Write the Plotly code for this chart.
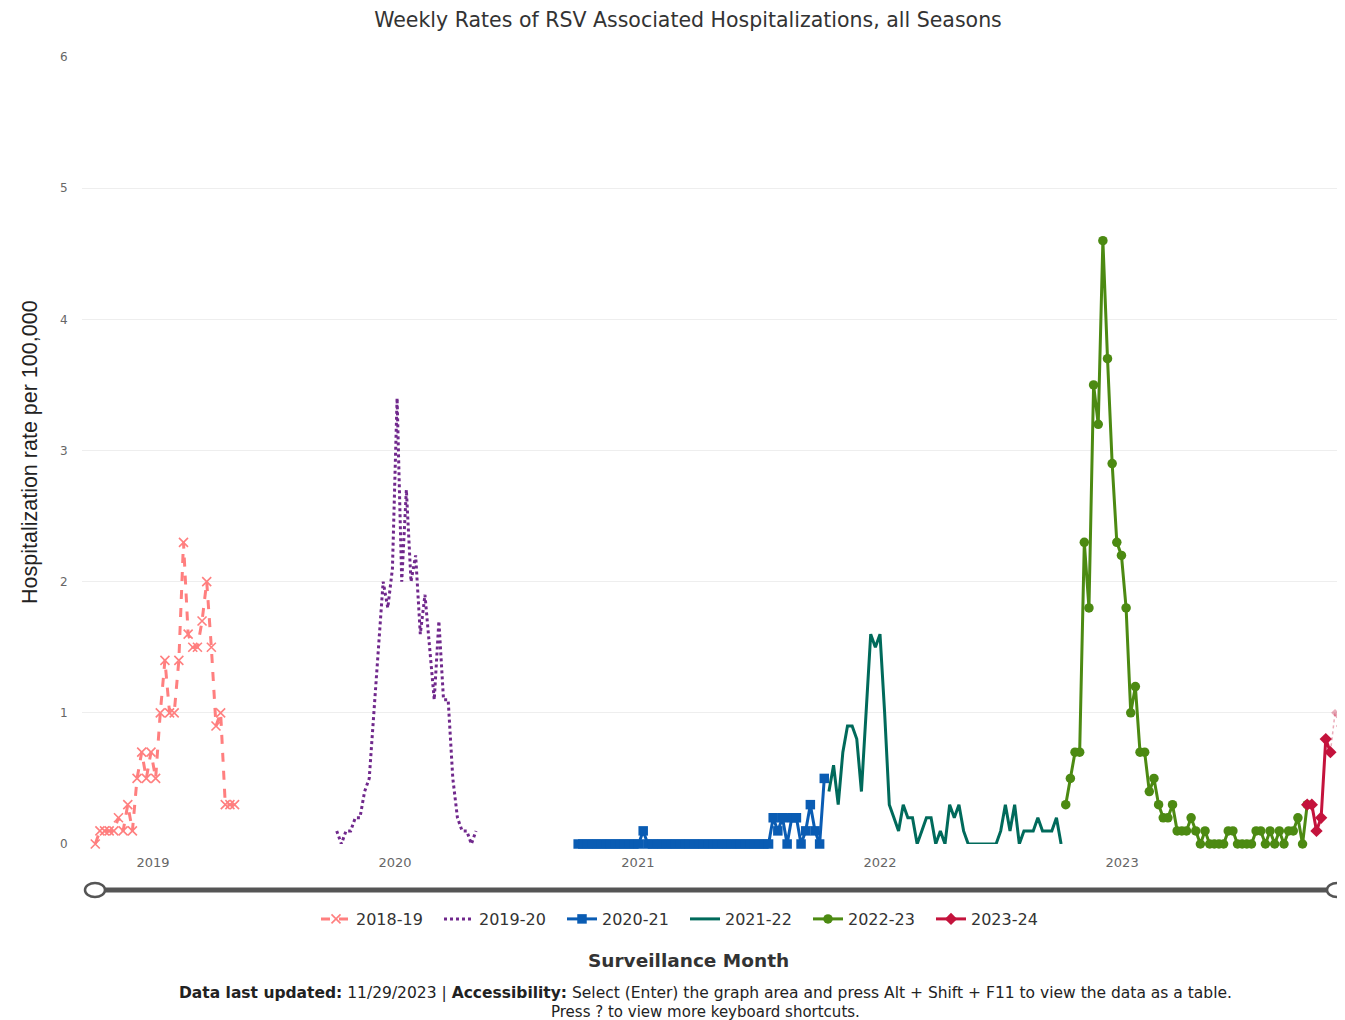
import pandas as pd
import plotly.graph_objects as go

# ---------------- data ----------------
season_names = ["2018-19", "2019-20", "2020-21", "2021-22", "2022-23", "2023-24"]
season_starts = ["2018-10-06", "2019-10-05", "2020-10-03", "2021-10-16", "2022-10-08", "2023-10-07"]

rates_2018_19 = [0.0, 0.1, 0.1, 0.1, 0.1, 0.2, 0.1, 0.3, 0.1, 0.5, 0.7, 0.5, 0.7, 0.5, 1.0, 1.4,
                 1.0, 1.0, 1.4, 2.3, 1.6, 1.5, 1.5, 1.7, 2.0, 1.5, 0.9, 1.0, 0.3, 0.3, 0.3]
rates_2019_20 = [0.1, 0.0, 0.1, 0.1, 0.2, 0.2, 0.4, 0.5, 1.0, 1.5, 2.0, 1.8, 2.1, 3.4, 2.0, 2.7,
                 2.0, 2.2, 1.6, 1.9, 1.5, 1.1, 1.7, 1.1, 1.1, 0.5, 0.2, 0.1, 0.1, 0.0, 0.1]
rates_2020_21 = [0.0, 0.0, 0.0, 0.0, 0.0, 0.0, 0.0, 0.0, 0.0, 0.0, 0.0, 0.0, 0.0, 0.0, 0.1, 0.0,
                 0.0, 0.0, 0.0, 0.0, 0.0, 0.0, 0.0, 0.0, 0.0, 0.0, 0.0, 0.0, 0.0, 0.0, 0.0, 0.0,
                 0.0, 0.0, 0.0, 0.0, 0.0, 0.0, 0.0, 0.0, 0.0, 0.0, 0.2, 0.1, 0.2, 0.0, 0.2, 0.2,
                 0.0, 0.1, 0.3, 0.1, 0.0, 0.5]
rates_2021_22 = [0.4, 0.6, 0.3, 0.7, 0.9, 0.9, 0.8, 0.4, 1.0, 1.6, 1.5, 1.6, 1.0, 0.3, 0.2, 0.1,
                 0.3, 0.2, 0.2, 0.0, 0.1, 0.2, 0.2, 0.0, 0.1, 0.0, 0.3, 0.2, 0.3, 0.1, 0.0, 0.0,
                 0.0, 0.0, 0.0, 0.0, 0.0, 0.1, 0.3, 0.1, 0.3, 0.0, 0.1, 0.1, 0.1, 0.2, 0.1, 0.1,
                 0.1, 0.2, 0.0]
rates_2022_23 = [0.3, 0.5, 0.7, 0.7, 2.3, 1.8, 3.5, 3.2, 4.6, 3.7, 2.9, 2.3, 2.2, 1.8, 1.0, 1.2,
                 0.7, 0.7, 0.4, 0.5, 0.3, 0.2, 0.2, 0.3, 0.1, 0.1, 0.1, 0.2, 0.1, 0.0, 0.1, 0.0,
                 0.0, 0.0, 0.0, 0.1, 0.1, 0.0, 0.0, 0.0, 0.0, 0.1, 0.1, 0.0, 0.1, 0.0, 0.1, 0.0,
                 0.1, 0.1, 0.2, 0.0, 0.3]
rates_2023_24 = [0.3, 0.3, 0.1, 0.2, 0.8, 0.7]
# most recent (preliminary) weeks of 2023-24, drawn faded
prelim_start_2023_24 = "2023-11-11"
prelim_2023_24 = [0.7, 1.0, 0.9]

year_ticks = ["2019-01-01", "2020-01-01", "2021-01-01", "2022-01-01", "2023-01-01"]
year_labels = ["2019", "2020", "2021", "2022", "2023"]

# ---------------- styles ----------------
colors = ["#FF7F7F", "#70288C", "#0A5CB3", "#006A5B", "#4C8A12", "#C4133C"]
dashes = ["dash", "dot", "solid", "solid", "solid", "solid"]
symbols = ["x-thin", None, "square", None, "circle", "diamond"]

all_rates = [rates_2018_19, rates_2019_20, rates_2020_21, rates_2021_22, rates_2022_23, rates_2023_24]

FONT = "DejaVu Sans"
fig = go.Figure()
for name, start, vals, col, dsh, sym in zip(season_names, season_starts, all_rates, colors, dashes, symbols):
    x = pd.date_range(start, periods=len(vals), freq="7D")
    if sym is None:
        mode = "lines"
        marker = None
    else:
        mode = "lines+markers"
        if sym == "x-thin":
            marker = dict(symbol=sym, size=9, color=col, line=dict(width=1.6, color=col))
        else:
            marker = dict(symbol=sym, size=9.5, color=col)
    fig.add_trace(go.Scatter(
        x=x, y=vals, name=name, mode=mode,
        line=dict(color=col, width=3, dash=dsh),
        marker=marker, cliponaxis=False,
    ))

xp = pd.date_range(prelim_start_2023_24, periods=len(prelim_2023_24), freq="7D")
fig.add_trace(go.Scatter(
    x=xp, y=prelim_2023_24, mode="lines+markers", showlegend=False,
    line=dict(color="rgba(196,19,60,0.35)", width=1.5, dash="dot"),
    marker=dict(symbol="diamond", size=6, color="rgba(196,19,60,0.35)"),
    cliponaxis=False,
))

# page body has an 8px margin: figure occupies screen px 8..1345 / 8..1020
OFF = 8
W, H = 1345 - OFF, 1020 - OFF
L = 82 - OFF          # plot left at screen x=82
T = 57 - OFF          # plot top at screen y=57
R = 0                 # plot right at screen x=1345
B = H - (844 - OFF)   # plot bottom at screen y=844
pw = W - L - R
ph = H - T - B


def px_to_paper_x(sx):
    return (sx - OFF - L) / pw


def px_to_paper_y(sy):
    return (H - B - (sy - OFF)) / ph


fig.update_layout(
    width=W, height=H,
    margin=dict(l=L, r=R, t=T, b=B),
    paper_bgcolor="white", plot_bgcolor="white",
    font=dict(family=FONT, color="#333333"),
    title=dict(text="Weekly Rates of RSV Associated Hospitalizations, all Seasons",
               x=px_to_paper_x(688), xref="paper", xanchor="center",
               y=1 - (20 - OFF) / H, yanchor="middle",
               font=dict(family=FONT, size=20.5, color="#333333")),
    xaxis=dict(type="date", range=["2018-09-16", "2023-12-03"],
               tickvals=year_ticks, ticktext=year_labels,
               showgrid=False, zeroline=False, showline=False,
               ticks="outside", ticklen=6, tickcolor="rgba(0,0,0,0)",
               tickfont=dict(family=FONT, size=13, color="#666666")),
    yaxis=dict(range=[0, 6], tickvals=[0, 1, 2, 3, 4, 5, 6],
               showgrid=True, gridcolor="#eeeeee", gridwidth=1,
               zeroline=False, showline=False,
               ticks="outside", ticklen=11, tickcolor="rgba(0,0,0,0)",
               tickfont=dict(family=FONT, size=12, color="#666666")),
    legend=dict(orientation="h", x=px_to_paper_x(685), xanchor="center",
                y=px_to_paper_y(919), yanchor="middle",
                font=dict(family=FONT, size=16, color="#333333"),
                entrywidth=78, entrywidthmode="pixels",
                bgcolor="rgba(0,0,0,0)"),
    showlegend=True,
    hovermode="x",
)

# y-axis title
fig.add_annotation(text="Hospitalization rate per 100,000", textangle=-90,
                   xref="paper", yref="paper", x=px_to_paper_x(30), y=px_to_paper_y(452),
                   xanchor="center", yanchor="middle", showarrow=False,
                   font=dict(family="Liberation Sans", size=21.5, color="#222222"))
# x-axis title
fig.add_annotation(text="<b>Surveillance Month</b>",
                   xref="paper", yref="paper", x=px_to_paper_x(688), y=px_to_paper_y(960),
                   xanchor="center", yanchor="middle", showarrow=False,
                   font=dict(family=FONT, size=18.5, color="#333333"))
# footer
fig.add_annotation(text="<b>Data last updated:</b> 11/29/2023 | <b>Accessibility:</b> Select (Enter) the graph area and press Alt + Shift + F11 to view the data as a table.",
                   xref="paper", yref="paper", x=px_to_paper_x(705), y=px_to_paper_y(993),
                   xanchor="center", yanchor="middle", showarrow=False,
                   font=dict(family=FONT, size=15.5, color="#222222"))
fig.add_annotation(text="Press ? to view more keyboard shortcuts.",
                   xref="paper", yref="paper", x=px_to_paper_x(705), y=px_to_paper_y(1012),
                   xanchor="center", yanchor="middle", showarrow=False,
                   font=dict(family=FONT, size=15, color="#222222"))

# navigator / range slider decoration
fig.add_shape(type="line", xref="paper", yref="paper",
              x0=px_to_paper_x(95), x1=px_to_paper_x(1337),
              y0=px_to_paper_y(890), y1=px_to_paper_y(890),
              line=dict(color="#555555", width=5))
for cx in (95, 1337):
    fig.add_shape(type="circle", xref="paper", yref="paper",
                  x0=px_to_paper_x(cx - 10), x1=px_to_paper_x(cx + 10),
                  y0=px_to_paper_y(897), y1=px_to_paper_y(883),
                  fillcolor="white", line=dict(color="#555555", width=2.5))

fig.write_html("out.html")
